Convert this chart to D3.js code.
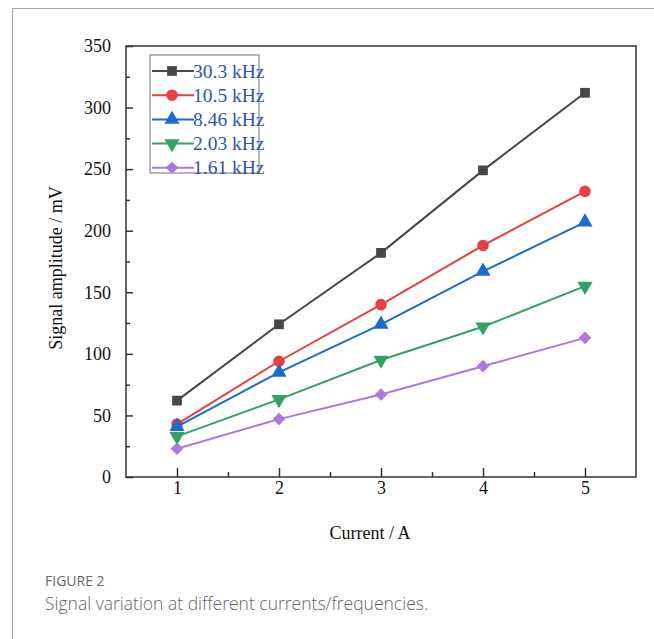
<!DOCTYPE html>
<html><head><meta charset="utf-8">
<script src="https://cdn.jsdelivr.net/npm/d3@7"></script>
<style>body{margin:0;background:#fff}svg{display:block}</style>
</head><body>
<svg id="c" width="654" height="639"></svg>
<script>
const currents = [1, 2, 3, 4, 5];
const seriesNames = ["30.3 kHz", "10.5 kHz", "8.46 kHz", "2.03 kHz", "1.61 kHz"];
const s30_3 = [62, 124, 182, 249, 312];
const s10_5 = [43, 94, 140, 188, 232];
const s8_46 = [41, 85, 124, 167, 207];
const s2_03 = [33, 63, 95, 122, 155];
const s1_61 = [23, 47, 67, 90, 113];
const yTicks = [0, 50, 100, 150, 200, 250, 300, 350];
const xTicks = [1, 2, 3, 4, 5];
const colors = ["#474747", "#e5403f", "#1d6ad0", "#34a063", "#ac78dd"];
const symbols = [d3.symbolSquare, d3.symbolCircle, d3.symbolTriangle, d3.symbolTriangle, d3.symbolSquare];
const rotations = [0, 0, 0, 180, 45];
const sizes = [95, 105, 100, 100, 80];
const allSeries = [s30_3, s10_5, s8_46, s2_03, s1_61];

const svg = d3.select("#c");
// outer frame
svg.append("path").attr("d", "M12.5,639 V8.5 H654").attr("fill", "none").attr("stroke", "#aaa").attr("stroke-width", 1.2);

const L = 126, R = 636, T = 46, B = 477;
const x = d3.scaleLinear().domain([0.5, 5.5]).range([L, R]);
const y = d3.scaleLinear().domain([0, 350]).range([B, T]);
const axisColor = "#333";
const serif = "'Liberation Serif','Times New Roman',serif";

// box
svg.append("rect").attr("x", L).attr("y", T).attr("width", R - L).attr("height", B - T)
  .attr("fill", "none").attr("stroke", axisColor).attr("stroke-width", 1.5);

// x axis
const xAxis = svg.append("g").attr("transform", `translate(0,${B})`)
  .call(d3.axisBottom(x).tickValues(xTicks).tickSize(-9).tickPadding(4).tickFormat(d3.format("d")));
xAxis.select(".domain").remove();
xAxis.selectAll(".tick line").attr("stroke", axisColor).attr("stroke-width", 1.5);
xAxis.selectAll("text").attr("font-family", serif).attr("font-size", 18).attr("fill", "#111");
svg.append("g").attr("transform", `translate(0,${B})`)
  .call(d3.axisBottom(x).tickValues([1.5, 2.5, 3.5, 4.5]).tickSize(-5).tickFormat(""))
  .call(g => g.select(".domain").remove())
  .selectAll("line").attr("stroke", axisColor).attr("stroke-width", 1.5);

// y axis
const yAxis = svg.append("g").attr("transform", `translate(${L},0)`)
  .call(d3.axisLeft(y).tickValues(yTicks).tickSize(-7).tickPadding(15));
yAxis.select(".domain").remove();
yAxis.selectAll(".tick line").attr("stroke", axisColor).attr("stroke-width", 1.5);
yAxis.selectAll("text").attr("font-family", serif).attr("font-size", 18).attr("fill", "#111");
svg.append("g").attr("transform", `translate(${L},0)`)
  .call(d3.axisLeft(y).tickValues([25, 75, 125, 175, 225, 275, 325]).tickSize(-4).tickFormat(""))
  .call(g => g.select(".domain").remove())
  .selectAll("line").attr("stroke", axisColor).attr("stroke-width", 1.5);

// axis titles
svg.append("text").attr("x", 370).attr("y", 539).attr("text-anchor", "middle")
  .attr("font-family", serif).attr("font-size", 18).attr("fill", "#111").text("Current / A");
svg.append("text").attr("transform", "translate(62,268) rotate(-90)").attr("text-anchor", "middle")
  .attr("font-family", serif).attr("font-size", 18).attr("fill", "#111").text("Signal amplitude / mV");

// series
const line = d3.line().x((d, i) => x(currents[i])).y(d => y(d));
allSeries.forEach((vals, si) => {
  const g = svg.append("g");
  g.append("path").datum(vals).attr("d", line).attr("fill", "none")
    .attr("stroke", colors[si]).attr("stroke-width", 2);
  g.selectAll("path.m").data(vals).join("path").attr("class", "m")
    .attr("transform", (d, i) => `translate(${x(currents[i])},${y(d)}) rotate(${rotations[si]})`)
    .attr("d", d3.symbol().type(symbols[si]).size(sizes[si]))
    .attr("fill", colors[si]);
});

// legend
const lg = svg.append("g");
lg.append("rect").attr("x", 150).attr("y", 55).attr("width", 109).attr("height", 118)
  .attr("fill", "#fff").attr("stroke", "#888").attr("stroke-width", 1.2);
seriesNames.forEach((name, si) => {
  const cy = 71 + si * 24.2;
  lg.append("line").attr("x1", 152).attr("x2", 194).attr("y1", cy).attr("y2", cy)
    .attr("stroke", colors[si]).attr("stroke-width", 2);
  lg.append("path").attr("transform", `translate(172,${cy}) rotate(${rotations[si]})`)
    .attr("d", d3.symbol().type(symbols[si]).size(sizes[si])).attr("fill", colors[si]);
  lg.append("text").attr("x", 193).attr("y", cy + 6.5).attr("font-family", serif).attr("font-size", 19.5)
    .attr("fill", "#2e56a8").text(name);
});

// caption
svg.append("text").attr("x", 45).attr("y", 586).attr("font-family", "'Open Sans','Noto Sans',sans-serif")
  .attr("font-size", 14).attr("fill", "#666").text("FIGURE 2");
svg.append("text").attr("x", 45).attr("y", 610).attr("font-family", "'Open Sans','Noto Sans',sans-serif")
  .attr("font-size", 17.5).attr("font-weight", 300).attr("fill", "#666").text("Signal variation at different currents/frequencies.");
</script>
</body></html>
